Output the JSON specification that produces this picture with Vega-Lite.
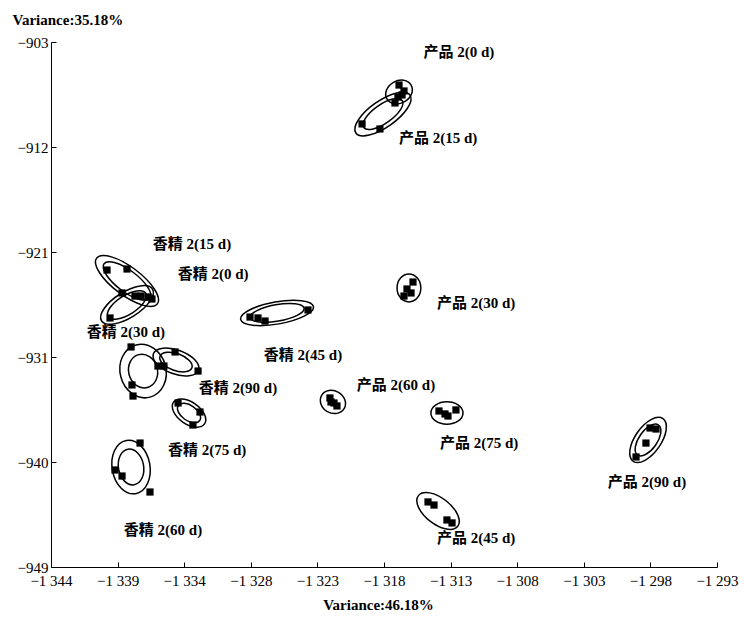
{
  "$schema": "https://vega.github.io/schema/vega-lite/v6.json",
  "autosize": "none",
  "width": 666,
  "height": 525,
  "padding": {"left": 51, "top": 42, "right": 27, "bottom": 53},
  "background": "white",
  "config": {"view": {"stroke": null}},
  "datasets": {
    "pts": [
      {"g": "香精 2(15 d)", "x": -1339.71, "y": -922.98},
      {"g": "香精 2(15 d)", "x": -1338.18, "y": -922.89},
      {"g": "香精 2(15 d)", "x": -1337.11, "y": -925.26},
      {"g": "香精 2(15 d)", "x": -1336.27, "y": -925.52},
      {"g": "香精 2(0 d)", "x": -1339.48, "y": -927.18},
      {"g": "香精 2(0 d)", "x": -1338.56, "y": -924.99},
      {"g": "香精 2(0 d)", "x": -1337.57, "y": -925.26},
      {"g": "香精 2(0 d)", "x": -1336.57, "y": -925.34},
      {"g": "香精 2(30 d)", "x": -1337.87, "y": -929.72},
      {"g": "香精 2(30 d)", "x": -1335.81, "y": -931.39},
      {"g": "香精 2(30 d)", "x": -1337.8, "y": -933.05},
      {"g": "香精 2(30 d)", "x": -1337.72, "y": -934.02},
      {"g": "香精 2(90 d)", "x": -1334.5, "y": -930.16},
      {"g": "香精 2(90 d)", "x": -1335.35, "y": -931.39},
      {"g": "香精 2(90 d)", "x": -1332.74, "y": -931.83},
      {"g": "香精 2(75 d)", "x": -1334.27, "y": -934.63},
      {"g": "香精 2(75 d)", "x": -1332.59, "y": -935.42},
      {"g": "香精 2(75 d)", "x": -1333.13, "y": -936.56},
      {"g": "香精 2(60 d)", "x": -1337.18, "y": -938.14},
      {"g": "香精 2(60 d)", "x": -1339.1, "y": -940.5},
      {"g": "香精 2(60 d)", "x": -1338.56, "y": -941.03},
      {"g": "香精 2(60 d)", "x": -1336.42, "y": -942.43},
      {"g": "香精 2(45 d)", "x": -1328.76, "y": -927.1},
      {"g": "香精 2(45 d)", "x": -1328.15, "y": -927.18},
      {"g": "香精 2(45 d)", "x": -1327.61, "y": -927.45},
      {"g": "香精 2(45 d)", "x": -1324.32, "y": -926.48},
      {"g": "产品 2(0 d)", "x": -1317.35, "y": -906.77},
      {"g": "产品 2(0 d)", "x": -1316.97, "y": -907.29},
      {"g": "产品 2(0 d)", "x": -1317.43, "y": -907.82},
      {"g": "产品 2(0 d)", "x": -1317.12, "y": -907.64},
      {"g": "产品 2(15 d)", "x": -1320.18, "y": -910.18},
      {"g": "产品 2(15 d)", "x": -1318.81, "y": -910.62},
      {"g": "产品 2(15 d)", "x": -1317.66, "y": -908.34},
      {"g": "产品 2(30 d)", "x": -1316.28, "y": -924.03},
      {"g": "产品 2(30 d)", "x": -1316.74, "y": -924.64},
      {"g": "产品 2(30 d)", "x": -1316.97, "y": -925.26},
      {"g": "产品 2(30 d)", "x": -1316.43, "y": -924.99},
      {"g": "产品 2(60 d)", "x": -1322.64, "y": -934.19},
      {"g": "产品 2(60 d)", "x": -1322.33, "y": -934.63},
      {"g": "产品 2(60 d)", "x": -1322.1, "y": -934.89},
      {"g": "产品 2(60 d)", "x": -1322.56, "y": -934.54},
      {"g": "产品 2(75 d)", "x": -1314.29, "y": -935.33},
      {"g": "产品 2(75 d)", "x": -1313.83, "y": -935.59},
      {"g": "产品 2(75 d)", "x": -1312.99, "y": -935.24},
      {"g": "产品 2(75 d)", "x": -1313.6, "y": -935.77},
      {"g": "产品 2(90 d)", "x": -1299.2, "y": -939.36},
      {"g": "产品 2(90 d)", "x": -1298.44, "y": -938.14},
      {"g": "产品 2(90 d)", "x": -1298.13, "y": -936.82},
      {"g": "产品 2(90 d)", "x": -1297.67, "y": -936.91},
      {"g": "产品 2(45 d)", "x": -1315.13, "y": -943.3},
      {"g": "产品 2(45 d)", "x": -1314.67, "y": -943.57},
      {"g": "产品 2(45 d)", "x": -1313.68, "y": -944.88},
      {"g": "产品 2(45 d)", "x": -1313.29, "y": -945.14}
    ],
    "ell": [
      {"g": "香精 2(15 d)", "ring": "outer", "x": -1338.18, "y": -923.94, "semi": 2.91, "tilt": 37},
      {"g": "香精 2(15 d)", "ring": "inner", "x": -1338.18, "y": -923.94, "semi": 2.2, "tilt": 37},
      {"g": "香精 2(0 d)", "ring": "outer", "x": -1338.18, "y": -926.04, "semi": 2.3, "tilt": 328},
      {"g": "香精 2(0 d)", "ring": "inner", "x": -1338.18, "y": -926.04, "semi": 1.7, "tilt": 328},
      {"g": "香精 2(30 d)", "ring": "outer", "x": -1336.95, "y": -931.83, "semi": 2.07, "tilt": 75},
      {"g": "香精 2(30 d)", "ring": "inner", "x": -1336.95, "y": -931.83, "semi": 1.3, "tilt": 75},
      {"g": "香精 2(90 d)", "ring": "outer", "x": -1334.43, "y": -931.04, "semi": 1.84, "tilt": 20},
      {"g": "香精 2(90 d)", "ring": "inner", "x": -1334.43, "y": -931.04, "semi": 1.3, "tilt": 20},
      {"g": "香精 2(75 d)", "ring": "outer", "x": -1333.43, "y": -935.51, "semi": 1.45, "tilt": 35},
      {"g": "香精 2(75 d)", "ring": "inner", "x": -1333.43, "y": -935.51, "semi": 1.0, "tilt": 35},
      {"g": "香精 2(60 d)", "ring": "outer", "x": -1337.87, "y": -940.24, "semi": 2.07, "tilt": 80},
      {"g": "香精 2(60 d)", "ring": "inner", "x": -1337.87, "y": -940.24, "semi": 1.38, "tilt": 80},
      {"g": "香精 2(45 d)", "ring": "outer", "x": -1326.69, "y": -926.74, "semi": 2.83, "tilt": 350},
      {"g": "香精 2(45 d)", "ring": "inner", "x": -1326.69, "y": -926.74, "semi": 2.1, "tilt": 350},
      {"g": "产品 2(0 d)", "ring": "outer", "x": -1317.35, "y": -907.38, "semi": 1.07, "tilt": 330},
      {"g": "产品 2(15 d)", "ring": "outer", "x": -1318.58, "y": -909.31, "semi": 2.53, "tilt": 325},
      {"g": "产品 2(15 d)", "ring": "inner", "x": -1318.58, "y": -909.31, "semi": 1.8, "tilt": 325},
      {"g": "产品 2(30 d)", "ring": "outer", "x": -1316.59, "y": -924.55, "semi": 1.07, "tilt": 90},
      {"g": "产品 2(60 d)", "ring": "outer", "x": -1322.41, "y": -934.54, "semi": 1.0, "tilt": 30},
      {"g": "产品 2(75 d)", "ring": "outer", "x": -1313.68, "y": -935.51, "semi": 1.23, "tilt": 0},
      {"g": "产品 2(90 d)", "ring": "outer", "x": -1298.28, "y": -937.87, "semi": 1.99, "tilt": 305},
      {"g": "产品 2(90 d)", "ring": "inner", "x": -1298.28, "y": -937.87, "semi": 1.4, "tilt": 305},
      {"g": "产品 2(45 d)", "ring": "outer", "x": -1314.36, "y": -944.09, "semi": 1.91, "tilt": 38}
    ],
    "lab": [
      {"t": "产品 2(0 d)", "x": -1312.76, "y": -903.88},
      {"t": "产品 2(15 d)", "x": -1314.36, "y": -911.41},
      {"t": "香精 2(15 d)", "x": -1333.2, "y": -920.7},
      {"t": "香精 2(0 d)", "x": -1331.59, "y": -923.33},
      {"t": "产品 2(30 d)", "x": -1311.45, "y": -925.87},
      {"t": "香精 2(30 d)", "x": -1338.26, "y": -928.41},
      {"t": "香精 2(45 d)", "x": -1324.7, "y": -930.42},
      {"t": "产品 2(60 d)", "x": -1317.58, "y": -933.05},
      {"t": "香精 2(90 d)", "x": -1329.68, "y": -933.32},
      {"t": "产品 2(75 d)", "x": -1311.22, "y": -938.14},
      {"t": "香精 2(75 d)", "x": -1332.05, "y": -938.75},
      {"t": "产品 2(90 d)", "x": -1298.36, "y": -941.55},
      {"t": "香精 2(60 d)", "x": -1335.42, "y": -945.76},
      {"t": "产品 2(45 d)", "x": -1311.45, "y": -946.46}
    ]
  },
  "layer": [
    {
      "data": {"name": "ell"},
      "mark": {"type": "point", "filled": false, "stroke": "black", "strokeWidth": 1.5, "opacity": 1},
      "encoding": {
        "x": {"field": "x", "type": "quantitative", "scale": {"domain": [-1344, -1293], "nice": false, "zero": false},
          "axis": {
            "values": [-1344, -1338.9, -1333.8, -1328.7, -1323.6, -1318.5, -1313.4, -1308.3, -1303.2, -1298.1, -1293],
            "labelExpr": "['−1 344','−1 339','−1 334','−1 328','−1 323','−1 318','−1 313','−1 308','−1 303','−1 298','−1 293'][round((datum.value + 1344) / 5.1)]",
            "title": "Variance:46.18%",
            "grid": false, "domainColor": "black", "tickColor": "black", "tickSize": -5,
            "labelPadding": 11, "labelFont": "Liberation Serif", "labelFontSize": 15, "labelColor": "black",
            "titleFont": "Liberation Serif", "titleFontSize": 15, "titleFontWeight": "bold", "titleColor": "black",
            "titleX": 327, "titleY": 37, "titleBaseline": "middle", "labelFlush": false, "labelOverlap": false
          }},
        "y": {"field": "y", "type": "quantitative", "scale": {"domain": [-949, -903], "nice": false, "zero": false},
          "axis": {
            "values": [-949, -939.8, -930.6, -921.4, -912.2, -903],
            "labelExpr": "'−' + round(abs(datum.value))",
            "title": "Variance:35.18%",
            "grid": false, "domainColor": "black", "tickColor": "black", "tickSize": -5,
            "labelPadding": 8, "labelFont": "Liberation Serif", "labelFontSize": 15, "labelColor": "black",
            "titleFont": "Liberation Serif", "titleFontSize": 15, "titleFontWeight": "bold", "titleColor": "black",
            "titleAngle": 0, "titleX": -39, "titleY": -23, "titleAlign": "left", "titleBaseline": "middle",
            "labelFlush": false, "labelOverlap": false
          }},
        "shape": {"field": "g", "type": "nominal", "legend": null,
          "scale": {
            "domain": ["香精 2(15 d)", "香精 2(0 d)", "香精 2(30 d)", "香精 2(90 d)", "香精 2(75 d)", "香精 2(60 d)", "香精 2(45 d)", "产品 2(0 d)", "产品 2(15 d)", "产品 2(30 d)", "产品 2(60 d)", "产品 2(75 d)", "产品 2(90 d)", "产品 2(45 d)"],
            "range": [
              "M-1,0A1,0.37,0,1,1,1,0A1,0.37,0,1,1,-1,0Z",
              "M-1,0A1,0.43,0,1,1,1,0A1,0.43,0,1,1,-1,0Z",
              "M-1,0A1,0.85,0,1,1,1,0A1,0.85,0,1,1,-1,0Z",
              "M-1,0A1,0.5,0,1,1,1,0A1,0.5,0,1,1,-1,0Z",
              "M-1,0A1,0.58,0,1,1,1,0A1,0.58,0,1,1,-1,0Z",
              "M-1,0A1,0.7,0,1,1,1,0A1,0.7,0,1,1,-1,0Z",
              "M-1,0A1,0.3,0,1,1,1,0A1,0.3,0,1,1,-1,0Z",
              "M-1,0A1,0.8,0,1,1,1,0A1,0.8,0,1,1,-1,0Z",
              "M-1,0A1,0.4,0,1,1,1,0A1,0.4,0,1,1,-1,0Z",
              "M-1,0A1,0.85,0,1,1,1,0A1,0.85,0,1,1,-1,0Z",
              "M-1,0A1,0.85,0,1,1,1,0A1,0.85,0,1,1,-1,0Z",
              "M-1,0A1,0.7,0,1,1,1,0A1,0.7,0,1,1,-1,0Z",
              "M-1,0A1,0.5,0,1,1,1,0A1,0.5,0,1,1,-1,0Z",
              "M-1,0A1,0.52,0,1,1,1,0A1,0.52,0,1,1,-1,0Z"
            ]
          }},
        "size": {"field": "semi", "type": "quantitative", "legend": null,
          "scale": {"type": "pow", "exponent": 2, "domain": [0, 4], "range": [0, 10915], "zero": true}},
        "angle": {"field": "tilt", "type": "quantitative", "scale": {"domain": [0, 360], "range": [0, 360]}}
      }
    },
    {
      "data": {"name": "pts"},
      "mark": {"type": "point", "shape": "square", "filled": true, "color": "black", "size": 52, "opacity": 1},
      "encoding": {
        "x": {"field": "x", "type": "quantitative"},
        "y": {"field": "y", "type": "quantitative"}
      }
    },
    {
      "data": {"name": "lab"},
      "mark": {"type": "text", "font": "Liberation Serif, Noto Sans CJK SC", "fontSize": 15, "fontWeight": "bold", "color": "black", "align": "center", "baseline": "middle"},
      "encoding": {
        "x": {"field": "x", "type": "quantitative"},
        "y": {"field": "y", "type": "quantitative"},
        "text": {"field": "t", "type": "nominal"}
      }
    }
  ]
}
